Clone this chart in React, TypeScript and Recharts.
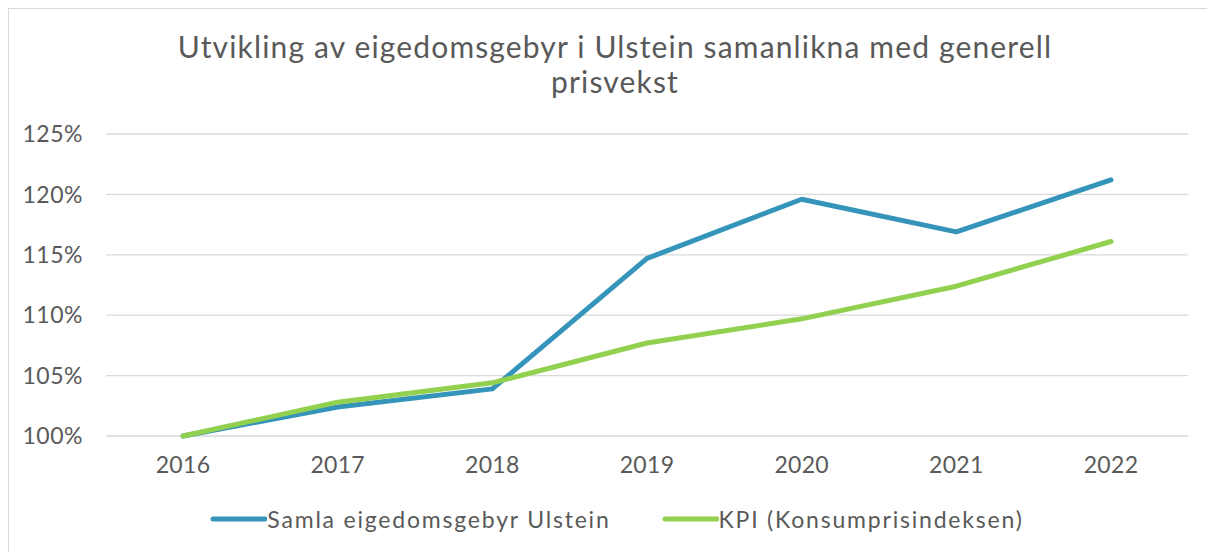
import React from 'react';
import { LineChart, Line, XAxis, YAxis, CartesianGrid, Legend } from 'recharts';

const years = ['2016', '2017', '2018', '2019', '2020', '2021', '2022'];
const samlaGebyr = [100, 102.4, 103.9, 114.7, 119.6, 116.9, 121.2];
const kpi = [100, 102.8, 104.4, 107.7, 109.7, 112.4, 116.1];
const yTicks = [100, 105, 110, 115, 120, 125];

const seriesInfo = [
    { key: 'samla', name: 'Samla eigedomsgebyr Ulstein', color: '#3494BA' },
    { key: 'kpi', name: 'KPI (Konsumprisindeksen)', color: '#92D050' },
];

const FONT = "'Lato', 'DejaVu Sans', sans-serif";
const TEXT = '#595959';

const data = years.map((year, i) => ({ year, samla: samlaGebyr[i], kpi: kpi[i] }));

const LegendContent = () => (
    <div style={{ display: 'flex', justifyContent: 'center', alignItems: 'center', gap: 50, fontFamily: FONT, fontSize: 23, letterSpacing: 1.8, color: TEXT, paddingLeft: 36, paddingTop: 9 }}>
        {seriesInfo.map(s => (
            <div key={s.key} style={{ display: 'flex', alignItems: 'center' }}>
                <svg width={58} height={10}>
                    <line x1={4} y1={5} x2={56} y2={5} stroke={s.color} strokeWidth={5} strokeLinecap="round" />
                </svg>
                <span>{s.name}</span>
            </div>
        ))}
    </div>
);

export default function App() {
    return (
        <div style={{ position: 'relative', width: 1198, height: 560, border: '1px solid #d9d9d9', background: '#fff' }}>
            {/* Title */}
            <div style={{ position: 'absolute', top: 20, left: 0, width: 1212, textAlign: 'center', fontFamily: FONT, fontSize: 30, letterSpacing: 1.15, lineHeight: '35px', color: TEXT }}>
                Utvikling av eigedomsgebyr i Ulstein samanlikna med generell<br />prisvekst
            </div>
            <LineChart width={1198} height={545} data={data} margin={{ top: 125, right: 19, left: 0, bottom: 8 }}>
                <CartesianGrid vertical={false} stroke="#d9d9d9" strokeWidth={1.3} />
                <XAxis
                    dataKey="year"
                    axisLine={false}
                    tickLine={false}
                    padding={{ left: 77, right: 77 }}
                    height={60}
                    tickMargin={15}
                    tick={{ fill: TEXT, fontSize: 23, fontFamily: FONT, letterSpacing: 0.3 }}
                />
                <YAxis
                    domain={[100, 125]}
                    ticks={yTicks}
                    width={97}
                    axisLine={false}
                    tickLine={false}
                    tickMargin={17}
                    tickFormatter={(v: number) => `${v}%`}
                    tick={{ fill: TEXT, fontSize: 23, fontFamily: FONT, letterSpacing: 0.5 }}
                />
                <Legend verticalAlign="bottom" height={50} content={<LegendContent />} />
                {seriesInfo.map(s => (
                    <Line
                        key={s.key}
                        type="linear"
                        dataKey={s.key}
                        name={s.name}
                        stroke={s.color}
                        strokeWidth={5}
                        strokeLinecap="round"
                        strokeLinejoin="round"
                        dot={false}
                        activeDot={false}
                        isAnimationActive={false}
                    />
                ))}
            </LineChart>
        </div>
    );
}
